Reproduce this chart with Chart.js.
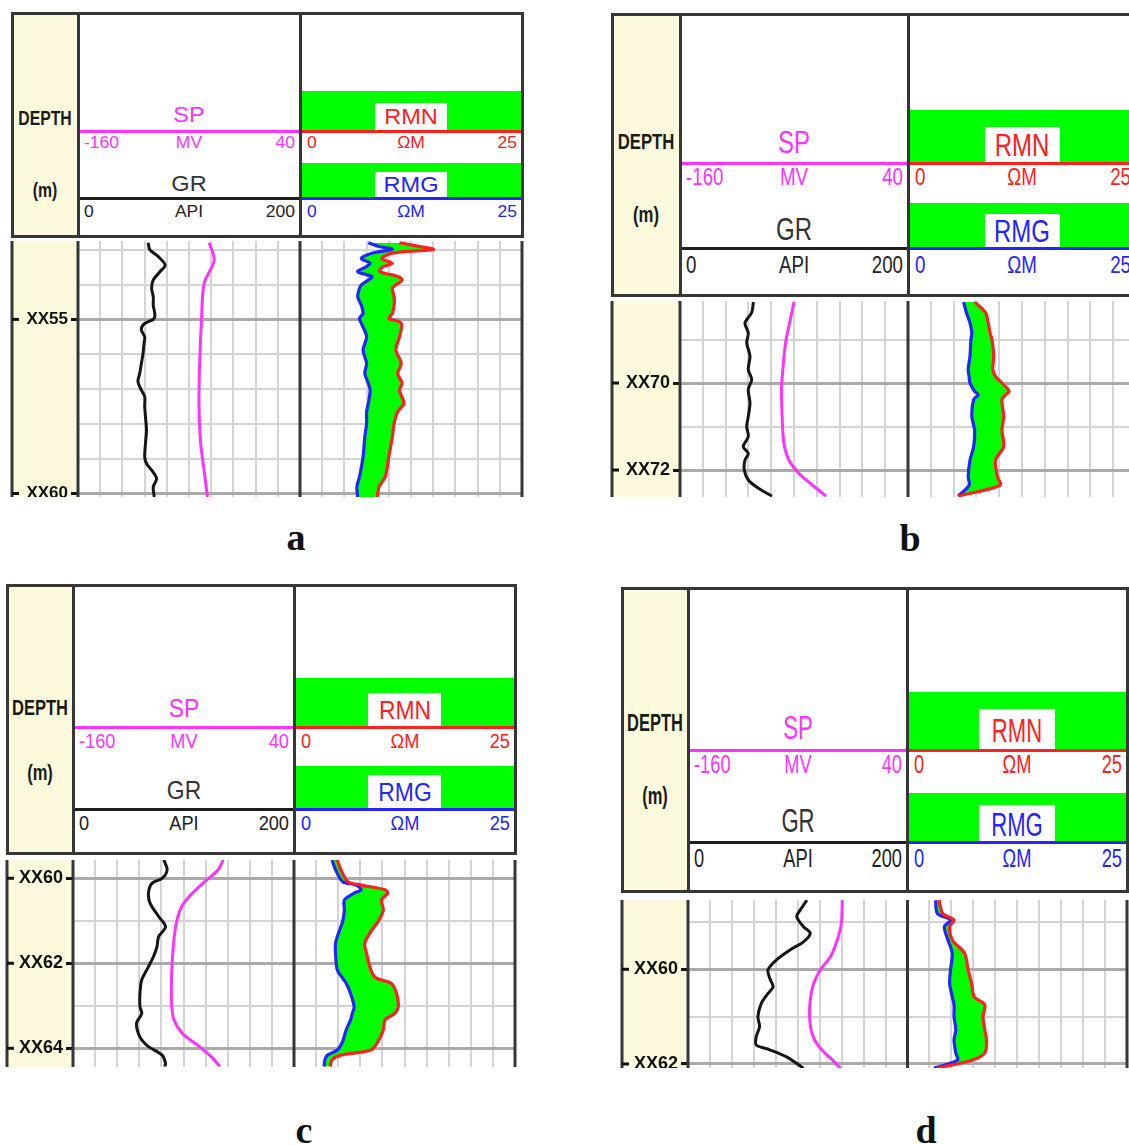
<!DOCTYPE html>
<html>
<head>
<meta charset="utf-8">
<title>Well log panels a-d</title>
<script src="https://cdn.jsdelivr.net/npm/chart.js@4.4.1/dist/chart.umd.min.js"></script>
<style>
  html, body { margin: 0; padding: 0; background: #fff; overflow: hidden; }
  body { width: 1129px; height: 1145px; position: relative; font-family: 'Liberation Sans', Arial, sans-serif; }
</style>
</head>
<body>
<script>
// ---- scale ranges printed in the track headers ----
const spRange  = [-160, 40];   // SP, mV
const grRange  = [0, 200];     // GR, API
const resRange = [0, 25];      // RMN / RMG, ohm-m

// ---- well a ----
const aDepthTicks = [55, 60];
const aGrDepth = [52.80, 53.00, 53.20, 53.44, 53.63, 53.87, 54.11, 54.35, 54.59, 54.88, 55.00, 55.07, 55.16, 55.31, 55.50, 55.69, 55.98, 56.26, 56.55, 56.79, 57.03, 57.22, 57.51, 57.80, 58.18, 58.56, 58.95, 59.14, 59.33, 59.57, 59.81, 60.10];
const aGr      = [63.2, 64.7, 72.4, 78.5, 73.9, 67.8, 66.3, 67.8, 67.8, 69.3, 67.8, 63.2, 58.6, 57.1, 60.1, 59.5, 58.6, 57.1, 55.6, 54.0, 57.1, 60.1, 60.1, 60.8, 61.7, 60.8, 60.1, 61.7, 66.3, 70.8, 67.8, 68.7];
const aSpDepth = [52.80, 53.30, 53.97, 54.92, 56.26, 57.41, 58.56, 59.33, 60.10];
const aSp      = [-41.8, -37.3, -46.4, -48.6, -50.4, -51.0, -49.5, -46.4, -43.4];
const aResDepth = [52.80, 52.91, 52.99, 53.10, 53.25, 53.39, 53.51, 53.63, 53.77, 53.87, 54.01, 54.11, 54.35, 54.59, 54.83, 54.97, 55.11, 55.50, 55.88, 56.26, 56.55, 56.84, 57.03, 57.41, 57.65, 57.99, 58.37, 58.95, 59.52, 59.81, 60.10];
const aRmn = [11.2, 13.5, 15.0, 10.4, 9.2, 10.4, 9.2, 9.0, 11.0, 11.5, 10.8, 10.4, 10.6, 10.6, 10.4, 10.0, 11.4, 11.2, 10.8, 11.4, 11.0, 11.5, 11.2, 11.7, 11.0, 10.6, 10.4, 10.0, 9.6, 8.9, 8.7];
const aRmg = [7.7, 8.9, 10.4, 8.1, 6.9, 7.9, 7.3, 6.5, 8.1, 7.7, 6.9, 6.7, 6.5, 6.9, 7.1, 6.7, 6.9, 7.5, 7.1, 7.5, 7.3, 7.7, 7.9, 7.7, 7.5, 7.5, 7.3, 7.1, 6.7, 6.4, 6.5];

// ---- well b ----
const bDepthTicks = [70, 72];
const bGrDepth = [68.14, 68.38, 68.62, 68.85, 69.08, 69.38, 69.69, 69.92, 70.15, 70.46, 70.77, 71.00, 71.23, 71.46, 71.62, 71.77, 72.00, 72.23, 72.42, 72.60];
const bGr      = [64.4, 62.9, 57.0, 59.9, 58.5, 61.4, 59.9, 62.9, 59.9, 61.4, 59.9, 58.5, 59.9, 55.5, 59.9, 57.0, 56.4, 59.9, 68.8, 80.7];
const bSpDepth = [68.14, 68.62, 69.08, 69.69, 70.15, 70.77, 71.38, 71.77, 72.08, 72.35, 72.60];
const bSp      = [-60.0, -63.9, -67.4, -69.8, -71.0, -70.4, -68.9, -64.5, -55.6, -43.7, -31.8];
const bResDepth = [68.14, 68.38, 68.62, 68.85, 69.00, 69.38, 69.69, 69.85, 70.00, 70.19, 70.27, 70.38, 70.77, 71.08, 71.46, 71.77, 72.15, 72.35, 72.60];
const bRmn = [7.3, 8.5, 8.8, 9.0, 9.2, 9.4, 9.3, 9.6, 10.3, 11.1, 10.7, 10.3, 10.5, 10.3, 10.5, 9.6, 9.8, 10.1, 5.5];
const bRmg = [6.1, 6.4, 6.8, 7.0, 6.9, 6.8, 6.6, 6.7, 6.8, 7.3, 7.7, 7.2, 7.0, 7.3, 7.2, 6.8, 6.6, 6.7, 5.5];

// ---- well c ----
const cDepthTicks = [60, 62, 64];
const cGrDepth = [59.57, 59.80, 60.00, 60.12, 60.35, 60.59, 60.90, 61.14, 61.37, 61.61, 61.84, 62.08, 62.39, 62.71, 63.02, 63.18, 63.41, 63.65, 63.80, 63.96, 64.16, 64.35, 64.43];
const cGr      = [82.2, 85.2, 80.6, 71.4, 68.3, 69.8, 77.5, 83.7, 77.5, 76.0, 72.9, 68.3, 62.2, 60.6, 60.6, 62.2, 57.5, 59.1, 62.2, 68.3, 80.6, 83.7, 83.1];
const cSpDepth = [59.57, 59.80, 60.12, 60.43, 60.71, 61.14, 61.69, 62.31, 62.94, 63.33, 63.65, 63.96, 64.20, 64.42];
const cSp      = [-24.0, -28.6, -42.5, -54.8, -62.5, -67.1, -69.5, -70.8, -70.8, -68.6, -60.9, -45.5, -34.8, -27.1];
const cResDepth = [59.57, 59.80, 60.08, 60.16, 60.27, 60.35, 60.51, 60.75, 61.02, 61.25, 61.53, 61.76, 62.16, 62.35, 62.47, 62.71, 63.02, 63.18, 63.33, 63.57, 63.84, 64.04, 64.16, 64.27, 64.43];
const cRmn = [4.9, 5.3, 6.1, 7.6, 10.3, 10.6, 9.9, 10.1, 9.5, 8.7, 8.0, 8.2, 8.7, 9.3, 11.0, 11.6, 11.8, 11.4, 10.3, 10.1, 9.5, 8.7, 5.3, 4.3, 4.1];
const cRmg = [4.3, 4.7, 5.5, 7.0, 7.6, 6.8, 5.7, 5.7, 5.5, 5.1, 4.7, 4.7, 4.9, 5.5, 5.9, 6.4, 6.8, 6.6, 6.4, 5.9, 5.5, 4.9, 3.8, 3.5, 3.4];

// ---- well d ----
const dDepthTicks = [60, 62];
const dGrDepth = [58.54, 58.75, 58.89, 59.10, 59.24, 59.42, 59.59, 59.80, 60.01, 60.19, 60.37, 60.51, 60.72, 61.00, 61.21, 61.42, 61.60, 61.70, 61.85, 62.09];
const dGr      = [108.3, 102.2, 99.1, 105.2, 111.4, 105.2, 92.9, 80.6, 72.9, 74.5, 77.5, 72.9, 66.8, 63.7, 65.2, 62.2, 62.2, 74.5, 89.8, 105.2];
const dSpDepth = [58.54, 59.03, 59.38, 59.73, 60.01, 60.30, 60.65, 61.00, 61.35, 61.63, 61.88, 62.09];
const dSp      = [-19.4, -20.3, -24.0, -30.1, -39.4, -45.5, -48.6, -49.2, -47.1, -40.9, -30.1, -20.9];
const dResDepth = [58.54, 58.82, 58.96, 59.10, 59.38, 59.66, 60.01, 60.30, 60.58, 60.75, 61.00, 61.28, 61.49, 61.77, 61.92, 62.09];
const dRmn = [3.6, 4.0, 5.3, 4.8, 5.1, 6.5, 6.9, 7.3, 7.6, 8.8, 8.6, 8.8, 9.0, 8.8, 7.3, 3.4];
const dRmg = [3.2, 3.4, 4.9, 4.2, 4.6, 5.1, 4.9, 4.8, 5.1, 5.3, 5.3, 5.5, 5.3, 5.5, 5.7, 3.0];

// ---- colours ----
const CREAM = '#fcf9dc', GREEN = '#00ff00', FRAME = '#363636';
const COL = { sp: '#ff33ff', rmn: '#ff2020', rmg: '#2424ff', gr: '#151515', grText: '#333333' };
const SANS = "'Liberation Sans', Arial, sans-serif";

// ---- panel layout (page pixels) ----
const panels = [
  { tag: 'a', x: [12, 78, 300, 522], hdr: [13, 236], log: [241, 497], range: [52.75, 60.1], ticks: aDepthTicks,
    rows: { green: 78, line1: 118, green2: 150, line2: 185, sp: 102, mv: 129, gr: 171, api: 198, depth: 104, unit: 176, box1: 28, box2: 26, boxW: 72 },
    font: { big: 22, sx: 1.07, small: 17, ssx: 1.03, depth: 21, dsx: 0.75, tick: 17 },
    caption: [296, 550],
    gr: [aGrDepth, aGr], sp: [aSpDepth, aSp], res: [aResDepth, aRmn, aRmg] },
  { tag: 'b', x: [612, 680, 908, 1136], hdr: [14, 295], log: [301, 497], range: [68.115, 72.62], ticks: bDepthTicks,
    rows: { green: 96, line1: 149, green2: 189, line2: 234, sp: 128, mv: 163, gr: 215, api: 251, depth: 128, unit: 201, box1: 36, box2: 34, boxW: 75 },
    font: { big: 32, sx: 0.75, small: 24, ssx: 0.78, depth: 22, dsx: 0.76, tick: 18 },
    caption: [910, 551],
    gr: [bGrDepth, bGr], sp: [bSpDepth, bSp], res: [bResDepth, bRmn, bRmg] },
  { tag: 'c', x: [7, 73, 294, 515], hdr: [585, 853], log: [860, 1067], range: [59.57, 64.44], ticks: cDepthTicks,
    rows: { green: 93, line1: 142, green2: 181, line2: 224, sp: 123, mv: 156, gr: 205, api: 238, depth: 123, unit: 188, box1: 34, box2: 34, boxW: 73 },
    font: { big: 26, sx: 0.88, small: 20, ssx: 0.91, depth: 22, dsx: 0.75, tick: 18 },
    caption: [304, 1143],
    gr: [cGrDepth, cGr], sp: [cSpDepth, cSp], res: [cResDepth, cRmn, cRmg] },
  { tag: 'd', x: [622, 688, 907, 1127], hdr: [588, 891], log: [900, 1068], range: [58.536, 62.085], ticks: dDepthTicks,
    rows: { green: 104, line1: 162, green2: 205, line2: 254, sp: 139, mv: 176, gr: 232, api: 270, depth: 136, unit: 209, box1: 41, box2: 37, boxW: 76 },
    font: { big: 33, sx: 0.67, small: 25, ssx: 0.73, depth: 23.5, dsx: 0.70, tick: 18 },
    caption: [926, 1143],
    gr: [dGrDepth, dGr], sp: [dSpDepth, dSp], res: [dResDepth, dRmn, dRmg] }
];

// ---- DOM helpers ----
function el(css, text) {
  const e = document.createElement('div');
  Object.assign(e.style, { position: 'absolute' }, css);
  if (text != null) e.textContent = text;
  document.body.appendChild(e);
  return e;
}
function box(x, y, w, h, bg) {
  return el({ left: x + 'px', top: y + 'px', width: w + 'px', height: h + 'px', background: bg });
}
function label(text, x, y, align, size, sx, color, weight) {
  const css = { left: x + 'px', top: y + 'px', fontSize: size + 'px', lineHeight: '1', whiteSpace: 'nowrap',
                color: color, fontWeight: weight || 'normal', fontFamily: SANS };
  if (align === 'center') { css.transform = `translate(-50%,-50%) scaleX(${sx})`; css.transformOrigin = 'center center'; }
  else if (align === 'left') { css.transform = `translateY(-50%) scaleX(${sx})`; css.transformOrigin = 'left center'; }
  else { css.transform = `translate(-100%,-50%) scaleX(${sx})`; css.transformOrigin = 'right center'; }
  return el(css, text);
}

// ---- header block: DEPTH column, SP/GR track and resistivity track ----
function drawHeader(p) {
  const [x0, x1, x2, x3] = p.x;
  const [t, b] = p.hdr;
  const r = p.rows, f = p.font;
  const c1 = (x1 + x2) / 2, c2 = (x2 + x3) / 2, cd = (x0 + x1) / 2;

  box(x0, t, x3 - x0, b - t, '#fff');
  box(x0, t, x1 - x0, b - t, CREAM);
  box(x2, t + r.green, x3 - x2, r.line1 - r.green, GREEN);
  box(x2, t + r.green2, x3 - x2, r.line2 - r.green2, GREEN);
  box(c2 - r.boxW / 2, t + r.line1 - r.box1, r.boxW, r.box1, '#fff');
  box(c2 - r.boxW / 2, t + r.line2 - r.box2, r.boxW, r.box2, '#fff');

  box(x1, t + r.line1 - 1.5, x2 - x1, 3, COL.sp);
  box(x2, t + r.line1 - 1.5, x3 - x2, 3, COL.rmn);
  box(x1, t + r.line2 - 1.5, x2 - x1, 3, '#1e1e1e');
  box(x2, t + r.line2 - 1.5, x3 - x2, 3, COL.rmg);

  box(x0 - 1.5, t - 1.5, x3 - x0 + 3, 3, FRAME);
  box(x0 - 1.5, b - 1.5, x3 - x0 + 3, 3, FRAME);
  [x0, x1, x2, x3].forEach(xx => box(xx - 1.5, t - 1.5, 3, b - t + 3, FRAME));

  label('DEPTH', cd, t + r.depth, 'center', f.depth, f.dsx, '#1a1a1a', 'bold');
  label('(m)', cd, t + r.unit, 'center', f.depth, f.dsx, '#1a1a1a', 'bold');

  label('SP', c1, t + r.sp, 'center', f.big, f.sx, COL.sp);
  label(String(spRange[0]), x1 + 6, t + r.mv, 'left', f.small, f.ssx, COL.sp);
  label('MV', c1, t + r.mv, 'center', f.small, f.ssx, COL.sp);
  label(String(spRange[1]), x2 - 5, t + r.mv, 'right', f.small, f.ssx, COL.sp);

  label('GR', c1, t + r.gr, 'center', f.big, f.sx, COL.grText);
  label(String(grRange[0]), x1 + 6, t + r.api, 'left', f.small, f.ssx, '#222');
  label('API', c1, t + r.api, 'center', f.small, f.ssx, '#222');
  label(String(grRange[1]), x2 - 5, t + r.api, 'right', f.small, f.ssx, '#222');

  label('RMN', c2, t + r.line1 - r.box1 / 2, 'center', f.big, f.sx, COL.rmn);
  label(String(resRange[0]), x2 + 7, t + r.mv, 'left', f.small, f.ssx, COL.rmn);
  label('ΩM', c2, t + r.mv, 'center', f.small, f.ssx, COL.rmn);
  label(String(resRange[1]), x3 - 5, t + r.mv, 'right', f.small, f.ssx, COL.rmn);

  label('RMG', c2, t + r.line2 - r.box2 / 2, 'center', f.big, f.sx, COL.rmg);
  label(String(resRange[0]), x2 + 7, t + r.api, 'left', f.small, f.ssx, COL.rmg);
  label('ΩM', c2, t + r.api, 'center', f.small, f.ssx, COL.rmg);
  label(String(resRange[1]), x3 - 5, t + r.api, 'right', f.small, f.ssx, COL.rmg);

  el({ left: p.caption[0] + 'px', top: (p.caption[1] - 32) + 'px', transform: 'translateX(-50%)',
       fontFamily: "'Liberation Serif', 'Times New Roman', serif", fontWeight: 'bold', fontSize: '38px', lineHeight: '1', color: '#111' }, p.tag);
}

// ---- log tracks: the x axis runs 0-10 over track 1 and 10-20 over track 2 ----
const toTrack1 = (v, [lo, hi]) => (v - lo) / (hi - lo) * 10;
const toTrack2 = (v, [lo, hi]) => 10 + (v - lo) / (hi - lo) * 10;

function series(name, depths, xs, color, width) {
  return { label: name, data: depths.map((d, i) => ({ x: xs[i], y: d })), borderColor: color,
           borderWidth: width, pointRadius: 0, fill: false, tension: 0.3 };
}

const logFrame = {
  id: 'logFrame',
  beforeDraw(chart) {
    const { ctx, chartArea: a } = chart;
    ctx.save();
    ctx.fillStyle = CREAM;
    ctx.fillRect(2, 0, a.left - 2, chart.height);
    ctx.restore();
  },
  afterDraw(chart, args, opts) {
    const { ctx, chartArea: a, scales } = chart;
    ctx.save();
    ctx.strokeStyle = FRAME;
    ctx.lineWidth = 3;
    [2, a.left, scales.x.getPixelForValue(10), a.right].forEach(px => {
      ctx.beginPath(); ctx.moveTo(px, 0); ctx.lineTo(px, chart.height); ctx.stroke();
    });
    ctx.strokeStyle = '#111';
    (opts.labels || []).forEach(d => {
      const py = scales.y.getPixelForValue(d);
      ctx.beginPath(); ctx.moveTo(2, py); ctx.lineTo(9, py); ctx.stroke();
    });
    ctx.restore();
  }
};

function drawLog(p) {
  const [x0, x1, x2, x3] = p.x;
  const [lt, lb] = p.log;
  const wrap = el({ left: (x0 - 2) + 'px', top: lt + 'px', width: (x3 - x0 + 4) + 'px', height: (lb - lt) + 'px' });
  const cv = document.createElement('canvas');
  wrap.appendChild(cv);
  const isLabelled = v => p.ticks.includes(v);
  const intTicks = (lo, hi) => { const out = []; for (let v = Math.ceil(lo); v <= Math.floor(hi); v++) out.push({ value: v }); return out; };

  new Chart(cv, {
    type: 'line',
    data: {
      datasets: [
        series('GR', p.gr[0], p.gr[1].map(v => toTrack1(v, grRange)), COL.gr, 3),
        series('SP', p.sp[0], p.sp[1].map(v => toTrack1(v, spRange)), COL.sp, 3),
        Object.assign(series('RMN', p.res[0], p.res[1].map(v => toTrack2(v, resRange)), COL.rmn, 3.2),
                      { fill: '+1', backgroundColor: GREEN }),
        series('RMG', p.res[0], p.res[2].map(v => toTrack2(v, resRange)), COL.rmg, 3.2)
      ]
    },
    options: {
      indexAxis: 'y',
      responsive: true,
      maintainAspectRatio: false,
      animation: false,
      devicePixelRatio: 1,
      events: [],
      layout: { padding: { left: 2, right: 2, top: 0, bottom: 0 } },
      plugins: {
        legend: { display: false },
        tooltip: { enabled: false },
        filler: { drawTime: 'beforeDatasetsDraw' },
        logFrame: { labels: p.ticks }
      },
      scales: {
        x: {
          type: 'linear', position: 'top', min: 0, max: 20,
          afterBuildTicks: s => { s.ticks = intTicks(0, 20); },
          afterFit: s => { s.height = 0; s.paddingLeft = 0; s.paddingRight = 0; },
          ticks: { display: false },
          border: { display: false },
          grid: { drawTicks: false, lineWidth: 2,
                  color: c => (c.tick && c.tick.value % 10 !== 0) ? '#d4d4d4' : 'rgba(0,0,0,0)' }
        },
        y: {
          type: 'linear', position: 'left', reverse: true, min: p.range[0], max: p.range[1],
          afterBuildTicks: s => { s.ticks = intTicks(p.range[0], p.range[1]); },
          afterFit: s => { s.width = x1 - x0; s.paddingTop = 0; s.paddingBottom = 0; },
          border: { display: false },
          ticks: { autoSkip: false, padding: 3, color: '#111',
                   font: { family: SANS, size: p.font.tick, weight: 'bold' },
                   callback: v => isLabelled(v) ? 'XX' + v : '' },
          grid: { tickLength: 7, tickWidth: 3,
                  tickColor: c => (c.tick && isLabelled(c.tick.value)) ? '#111' : 'rgba(0,0,0,0)',
                  color: c => (c.tick && isLabelled(c.tick.value)) ? '#aaaaaa' : '#d4d4d4',
                  lineWidth: c => (c.tick && isLabelled(c.tick.value)) ? 3 : 2 }
        }
      }
    },
    plugins: [logFrame]
  });
}

panels.forEach(p => { drawHeader(p); drawLog(p); });
</script>
</body>
</html>
